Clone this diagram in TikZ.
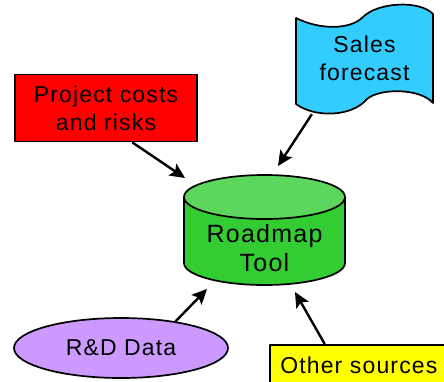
\documentclass[tikz,border=0pt]{standalone}
\usepackage{fontspec}
\setmainfont{Liberation Sans}[LetterSpace=5]
\usetikzlibrary{arrows.meta,shapes.geometric,calc}
\definecolor{pcred}{HTML}{FF0000}
\definecolor{sfcyan}{HTML}{33CCFF}
\definecolor{cylbody}{HTML}{33CC33}
\definecolor{cyltop}{HTML}{5CD65C}
\definecolor{rdpurple}{HTML}{CC99FF}
\definecolor{osyellow}{HTML}{FFFF00}
\tikzset{
 outline/.style={draw=black, line width=1.7pt, line join=round},
 txt/.style={font=\fontsize{23}{28}\selectfont, align=center, inner sep=0pt},
 arr/.style={line width=2.4pt, -{Stealth[length=15pt,width=14pt,inset=3pt]}},
}
\begin{document}
\begin{tikzpicture}[x=1pt,y=-1pt]
\useasboundingbox (0,0) rectangle (444,381);
% Project costs box
\node[outline, fill=pcred, txt, minimum width=182pt, minimum height=67pt] (pc) at (106,108) {Project costs\\and risks};
% Sales forecast tape shape
\draw[outline, fill=sfcyan] (296,18) .. controls (320,30) and (350,30) .. (363,17) .. controls (378,2) and (420,0) .. (433,14) -- (433,103) .. controls (420,88) and (380,88) .. (367,99) .. controls (352,117) and (315,118) .. (296,104) -- cycle;
\node[txt, minimum width=137pt, minimum height=111pt] (sf) at (364.5,58.5) {Sales\\forecast};
% Roadmap cylinder
\draw[outline, fill=cylbody] (184,197) -- (184,263) arc[start angle=180, end angle=0, x radius=80.5, y radius=22] -- (345,197) -- cycle;
\draw[outline, fill=cyltop] (264.5,197) ellipse[x radius=80.5, y radius=22];
\node[txt, font=\fontsize{25}{29.4}\selectfont] (rt) at (264.5,248) {Roadmap\\Tool};
% R&D Data
\node[outline, fill=rdpurple, ellipse, txt, minimum width=214pt, minimum height=60pt] (rd) at (121,348) {R\&D Data};
% Other sources
\node[outline, fill=osyellow, txt, anchor=north west, minimum width=178pt, minimum height=40pt] (os) at (269,344) {Other sources};
% arrow targets
\coordinate (t1) at (185,178);
\coordinate (t2) at (278,166);
\coordinate (t3) at (207,289);
\coordinate (t4) at (295,292);
\draw[arr] ($(pc.south west)!0.643!(pc.south east)$) -- (t1);
\draw[arr] ($(sf.south west)!0.117!(sf.south east)$) -- (t2);
\draw[arr] (rd.26) -- (t3);
\draw[arr] ($(os.north west)!0.31!(os.north east)$) -- (t4);
\end{tikzpicture}
\end{document}
